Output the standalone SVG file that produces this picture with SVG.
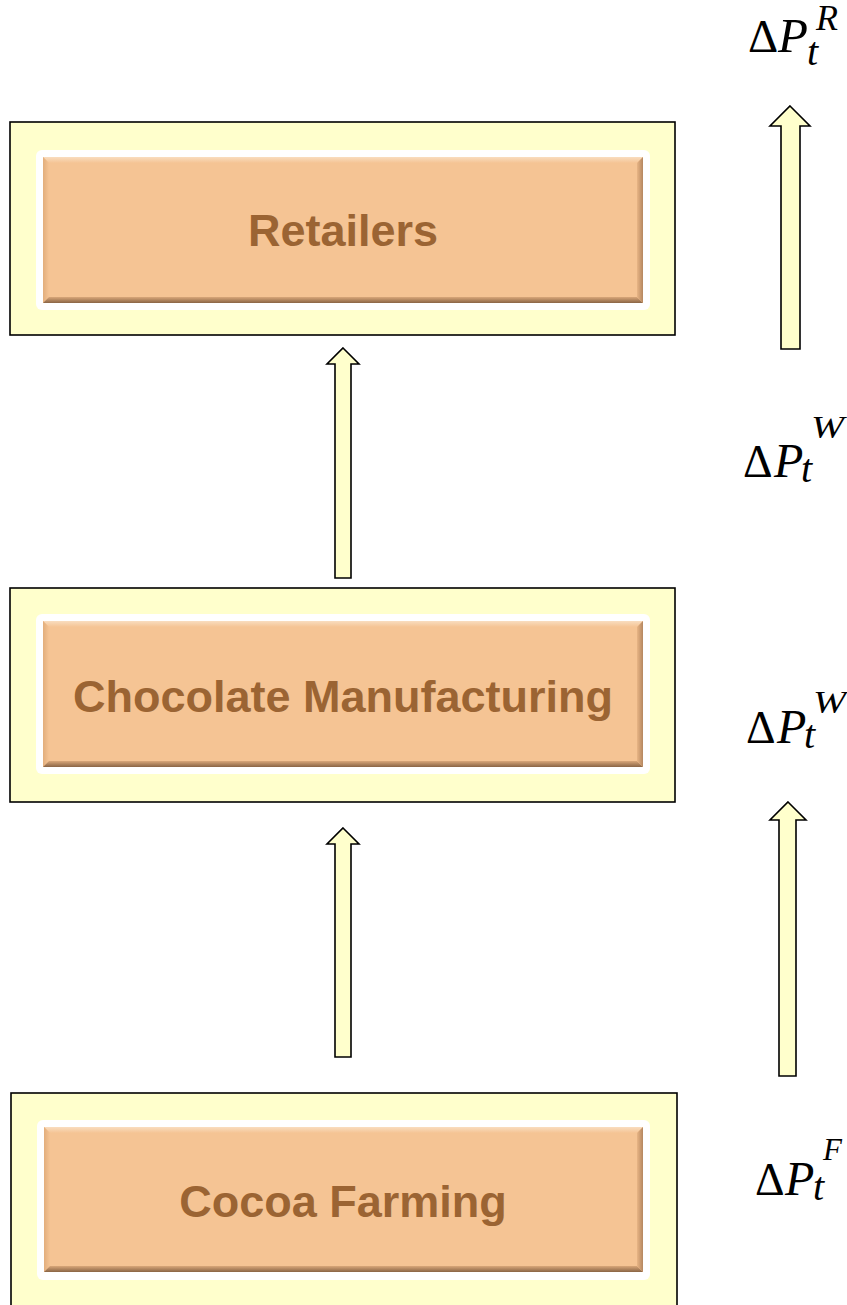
<svg xmlns="http://www.w3.org/2000/svg" width="847" height="1305" viewBox="0 0 847 1305">
<defs>
<style>
.outer{fill:#FFFFCC;stroke:#000;stroke-width:1.6}
.white{fill:#fff}
.face{fill:#F5C494}
.lbl{font-family:"Liberation Sans",Arial,sans-serif;font-weight:bold;font-size:45px;fill:#9B6433;text-anchor:middle}
.arrow{fill:#FFFFCC;stroke:#000;stroke-width:1.6;stroke-linejoin:miter}
.m{font-family:"Liberation Serif","Times New Roman",serif;fill:#000}
.mi{font-style:italic}
</style>
<linearGradient id="gTop" x1="0" y1="0" x2="0" y2="1"><stop offset="0" stop-color="#F9DDBF"/><stop offset="1" stop-color="#F5C494"/></linearGradient>
<linearGradient id="gLeft" x1="0" y1="0" x2="1" y2="0"><stop offset="0" stop-color="#E2AE7C"/><stop offset="1" stop-color="#F5C494"/></linearGradient>
<linearGradient id="gBot" x1="0" y1="0" x2="0" y2="1"><stop offset="0" stop-color="#D9A779"/><stop offset="1" stop-color="#8A6545"/></linearGradient>
<linearGradient id="gRight" x1="0" y1="0" x2="1" y2="0"><stop offset="0" stop-color="#E8B585"/><stop offset="1" stop-color="#B58760"/></linearGradient>
</defs>

<g id="retailers">
<rect class="outer" x="10" y="122" width="665" height="213"/>
<rect class="white" x="36" y="150" width="614" height="160" rx="6"/>
<rect class="face" x="43" y="157" width="600" height="146"/>
<polygon fill="url(#gTop)" points="43,157 643,157 637,163 49,163"/>
<polygon fill="url(#gLeft)" points="43,157 49,163 49,297 43,303"/>
<polygon fill="url(#gBot)" points="43,303 49,297 637,297 643,303"/>
<polygon fill="url(#gRight)" points="643,157 643,303 637,297 637,163"/>
<text class="lbl" x="343" y="246">Retailers</text>
</g>

<g id="manufacturing">
<rect class="outer" x="10" y="588" width="665" height="214"/>
<rect class="white" x="36" y="614" width="614" height="160" rx="6"/>
<rect class="face" x="43" y="621" width="600" height="146"/>
<polygon fill="url(#gTop)" points="43,621 643,621 637,627 49,627"/>
<polygon fill="url(#gLeft)" points="43,621 49,627 49,761 43,767"/>
<polygon fill="url(#gBot)" points="43,767 49,761 637,761 643,767"/>
<polygon fill="url(#gRight)" points="643,621 643,767 637,761 637,627"/>
<text class="lbl" x="343" y="712">Chocolate Manufacturing</text>
</g>

<g id="farming">
<rect class="outer" x="11" y="1093" width="666" height="230"/>
<rect class="white" x="37" y="1120" width="613" height="160" rx="6"/>
<rect class="face" x="44" y="1127" width="599" height="145"/>
<polygon fill="url(#gTop)" points="44,1127 643,1127 637,1133 50,1133"/>
<polygon fill="url(#gLeft)" points="44,1127 50,1133 50,1266 44,1272"/>
<polygon fill="url(#gBot)" points="44,1272 50,1266 637,1266 643,1272"/>
<polygon fill="url(#gRight)" points="643,1127 643,1272 637,1266 637,1133"/>
<text class="lbl" x="343" y="1217">Cocoa Farming</text>
</g>

<g id="connectors">
<polygon class="arrow" points="343,348 359,364 351,364 351,578 335,578 335,364 327,364"/>
<polygon class="arrow" points="343,828 359,844 351,844 351,1057 335,1057 335,844 327,844"/>
<polygon class="arrow" points="790,106 810,126 800,126 800,349 781,349 781,126 770,126"/>
<polygon class="arrow" points="788,802 806,820 796,820 796,1076 779,1076 779,820 770,820"/>
</g>

<g id="labels">
<text class="m" y="52" font-size="47"><tspan x="748">Δ</tspan><tspan class="mi" x="778" font-size="49">P</tspan><tspan class="mi" x="807" y="65" font-size="40">t</tspan><tspan class="mi" x="816" y="30" font-size="36">R</tspan></text>
<text class="m" y="477" font-size="46"><tspan x="743">Δ</tspan><tspan class="mi" x="774" font-size="48">P</tspan><tspan class="mi" x="801" y="482" font-size="40">t</tspan><tspan class="mi" x="811" y="438" font-size="32" textLength="33" lengthAdjust="spacingAndGlyphs">W</tspan></text>
<text class="m" y="743" font-size="46"><tspan x="746">Δ</tspan><tspan class="mi" x="777" font-size="48">P</tspan><tspan class="mi" x="804" y="748" font-size="40">t</tspan><tspan class="mi" x="813" y="713" font-size="32" textLength="33" lengthAdjust="spacingAndGlyphs">W</tspan></text>
<text class="m" y="1195" font-size="46"><tspan x="755">Δ</tspan><tspan class="mi" x="785" font-size="48">P</tspan><tspan class="mi" x="813" y="1200" font-size="40">t</tspan><tspan class="mi" x="823" y="1160" font-size="31">F</tspan></text>
</g>
</svg>
